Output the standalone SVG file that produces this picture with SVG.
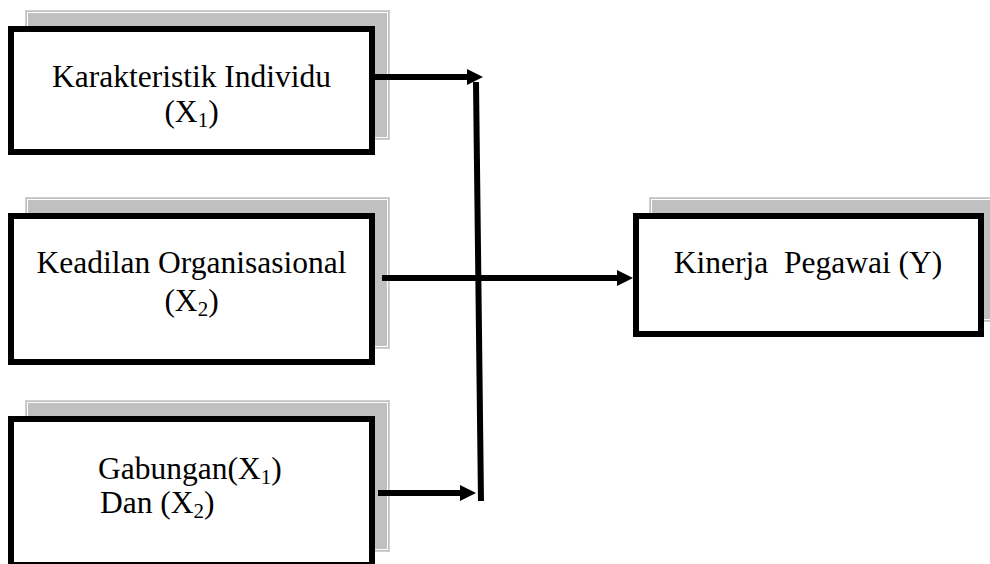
<svg xmlns="http://www.w3.org/2000/svg" width="990" height="564" viewBox="0 0 990 564">
<style>
.shadow{fill:#c0c0c0;stroke:#d0d0d0;stroke-width:1}
.shin{fill:none;stroke:#ffffff;stroke-width:1}
.box{fill:#ffffff;stroke:#000000;stroke-width:6}
.t{font-family:"Liberation Serif","Times New Roman",serif;font-size:31.5px;fill:#000000;white-space:pre}
.sub{font-size:21px}
.conn{fill:none;stroke:#000000;stroke-width:6}
</style>
<defs>
<marker id="ah" markerUnits="userSpaceOnUse" markerWidth="17" markerHeight="17" refX="0" refY="8" orient="auto">
<path d="M0,0 L16,8 L0,16 z" fill="#000000"/>
</marker>
<linearGradient id="g1" gradientUnits="userSpaceOnUse" x1="375" y1="0" x2="467" y2="0">
<stop offset="0" stop-color="#444444"/><stop offset="0.163" stop-color="#444444"/><stop offset="0.164" stop-color="#000000"/><stop offset="1" stop-color="#000000"/>
</linearGradient>
<linearGradient id="g3" gradientUnits="userSpaceOnUse" x1="378" y1="0" x2="460" y2="0">
<stop offset="0" stop-color="#444444"/><stop offset="0.146" stop-color="#444444"/><stop offset="0.147" stop-color="#000000"/><stop offset="1" stop-color="#000000"/>
</linearGradient>
</defs>

<g id="node-x1">
<rect class="shadow" x="25.5" y="10.5" width="364" height="129"/>
<rect class="shin" x="27.5" y="12.5" width="360" height="125"/>
<rect class="box" x="11" y="29" width="361" height="123"/>
<text class="t" x="191.5" y="87" text-anchor="middle">Karakteristik Individu</text>
<text class="t" x="191.5" y="122" text-anchor="middle">(X<tspan class="sub" dy="5">1</tspan><tspan dy="-5">)</tspan></text>
</g>

<g id="node-x2">
<rect class="shadow" x="25.5" y="197.5" width="364" height="151"/>
<rect class="shin" x="27.5" y="199.5" width="360" height="147"/>
<rect class="box" x="11" y="216" width="361" height="146"/>
<text class="t" x="191.5" y="273" text-anchor="middle">Keadilan Organisasional</text>
<text class="t" x="191.5" y="311" text-anchor="middle">(X<tspan class="sub" dy="5">2</tspan><tspan dy="-5">)</tspan></text>
</g>

<g id="node-x1x2">
<rect class="shadow" x="25.5" y="400.5" width="364" height="151"/>
<rect class="shin" x="27.5" y="402.5" width="360" height="147"/>
<rect class="box" x="11" y="419" width="361" height="146"/>
<text class="t" x="98" y="479">Gabungan(X<tspan class="sub" dy="5">1</tspan><tspan dy="-5">)</tspan></text>
<text class="t" x="100" y="513">Dan (X<tspan class="sub" dy="5">2</tspan><tspan dy="-5">)</tspan></text>
</g>

<g id="node-y">
<rect class="shadow" x="649.5" y="197.5" width="350" height="124"/>
<rect class="shin" x="651.5" y="199.5" width="346" height="120"/>
<rect class="box" x="636" y="216" width="345" height="118"/>
<text class="t" x="808" y="273" text-anchor="middle">Kinerja  Pegawai (Y)</text>
</g>

<g id="connectors">
<path class="conn" d="M375,77 H467" stroke="url(#g1)" marker-end="url(#ah)"/>
<path class="conn" d="M382,278 H617" marker-end="url(#ah)"/>
<path class="conn" d="M378,493 H460" stroke="url(#g3)" marker-end="url(#ah)"/>
<path class="conn" d="M476,82 L481,501"/>
</g>
</svg>
